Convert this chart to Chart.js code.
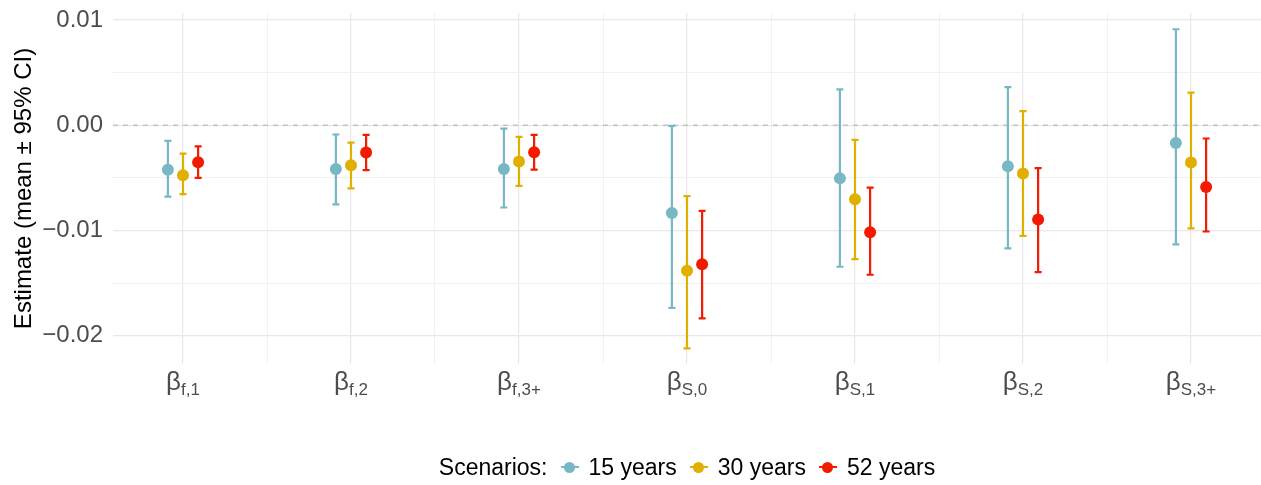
<!DOCTYPE html>
<html>
<head>
<meta charset="utf-8">
<script src="https://cdn.jsdelivr.net/npm/chart.js@4"></script>
<style>
  body { margin: 0; background: #fff; font-family: "Liberation Sans", Arial, sans-serif; }
  #wrap { position: relative; width: 1261px; height: 485px; }
  #legend {
    position: absolute; left: 113px; width: 1148px; top: 452px; height: 30px;
    display: flex; justify-content: center; align-items: center;
    font-size: 23px; color: #000;
  }
  #legend .key { position: relative; width: 18px; height: 12px; margin: 0 10px 0 13px; }
  #legend .key .ln { position: absolute; left: 0; right: 0; top: 5px; height: 2px; }
  #legend .key .dot { position: absolute; left: 3.5px; top: 0.5px; width: 11px; height: 11px; border-radius: 50%; }
</style>
</head>
<body>
<div id="wrap">
  <canvas id="grafik" width="1261" height="485"></canvas>
  <div id="legend"></div>
</div>
<script>
// kategori (label sumbu x: beta + subskrip)
const kategori = ["f,1", "f,2", "f,3+", "S,0", "S,1", "S,2", "S,3+"];

// skenario
const skenario = ["15 years", "30 years", "52 years"];
const warna = ["#78B7C5", "#E1AF00", "#F21A00"];

// nilai estimasi (mean) dan batas 95% CI per skenario
const mean15 = [-0.00424, -0.00415, -0.00415, -0.00833, -0.00505, -0.00389, -0.00168];
const lo15   = [-0.00678, -0.00753, -0.00782, -0.01735, -0.01345, -0.01171, -0.01133];
const hi15   = [-0.00149, -0.00088, -0.00032, -0.00006,  0.00340,  0.00362,  0.00912];

const mean30 = [-0.00475, -0.00380, -0.00345, -0.01383, -0.00703, -0.00459, -0.00354];
const lo30   = [-0.00655, -0.00600, -0.00576, -0.02121, -0.01273, -0.01051, -0.00981];
const hi30   = [-0.00269, -0.00165, -0.00111, -0.00674, -0.00140,  0.00134,  0.00310];

const mean52 = [-0.00351, -0.00260, -0.00256, -0.01320, -0.01016, -0.00896, -0.00586];
const lo52   = [-0.00500, -0.00427, -0.00421, -0.01836, -0.01421, -0.01396, -0.01010];
const hi52   = [-0.00200, -0.00092, -0.00092, -0.00813, -0.00592, -0.00408, -0.00126];

// tick sumbu y
const yTicks = [-0.02, -0.015, -0.01, -0.005, 0, 0.005, 0.01];

const semuaMean = [mean15, mean30, mean52];
const semuaLo = [lo15, lo30, lo52];
const semuaHi = [hi15, hi30, hi52];

const FONT = '"Liberation Sans", Arial, sans-serif';
const geser = [-0.09, 0, 0.09]; // dodge antar skenario

const datasets = skenario.map((nama, s) => ({
  label: nama,
  data: semuaMean[s].map((m, i) => ({ x: i + 1 + geser[s], y: m })),
  lo: semuaLo[s],
  hi: semuaHi[s],
  backgroundColor: warna[s],
  borderColor: warna[s],
  borderWidth: 0,
  pointRadius: 6,
  pointHoverRadius: 6
}));

const isMajor = v => Math.abs(v * 100 - Math.round(v * 100)) < 1e-6;

// plugin: garis nol putus-putus + error bar
const errorBar = {
  id: "errorBar",
  beforeDatasetsDraw(chart) {
    const { ctx, chartArea, scales: { x, y } } = chart;
    ctx.save();
    ctx.strokeStyle = "#bdbdbd";
    ctx.lineWidth = 1.3;
    ctx.setLineDash([5, 5]);
    const y0 = y.getPixelForValue(0);
    ctx.beginPath();
    ctx.moveTo(chartArea.left, y0);
    ctx.lineTo(chartArea.right, y0);
    ctx.stroke();
    ctx.setLineDash([]);

    chart.data.datasets.forEach(ds => {
      ctx.strokeStyle = ds.borderColor;
      ctx.lineWidth = 2.2;
      ds.data.forEach((p, i) => {
        const px = x.getPixelForValue(p.x);
        const top = y.getPixelForValue(ds.hi[i]);
        const bot = y.getPixelForValue(ds.lo[i]);
        ctx.beginPath();
        ctx.moveTo(px, top); ctx.lineTo(px, bot);
        ctx.moveTo(px - 3.5, top); ctx.lineTo(px + 3.5, top);
        ctx.moveTo(px - 3.5, bot); ctx.lineTo(px + 3.5, bot);
        ctx.stroke();
      });
    });
    ctx.restore();
  }
};

// plugin: label beta dengan subskrip
const labelBeta = {
  id: "labelBeta",
  afterDraw(chart) {
    const { ctx, scales: { x } } = chart;
    ctx.save();
    ctx.fillStyle = "#4d4d4d";
    ctx.textBaseline = "alphabetic";
    ctx.textAlign = "left";
    kategori.forEach((sub, i) => {
      const cx = x.getPixelForValue(i + 1);
      ctx.font = "26px " + FONT;
      const wB = ctx.measureText("β").width;
      ctx.font = "17px " + FONT;
      const wS = ctx.measureText(sub).width;
      const x0 = cx - (wB + wS) / 2;
      ctx.font = "26px " + FONT;
      ctx.fillText("β", x0, 390);
      ctx.font = "17px " + FONT;
      ctx.fillText(sub, x0 + wB, 395);
    });
    ctx.restore();
  }
};

const chart = new Chart(document.getElementById("grafik"), {
  type: "scatter",
  data: { datasets },
  options: {
    responsive: false,
    animation: false,
    layout: { autoPadding: false, padding: { top: 13, right: 0, bottom: 0, left: 0 } },
    plugins: { legend: { display: false }, tooltip: { enabled: false } },
    scales: {
      x: {
        type: "linear",
        min: 1 - 70 / 168,
        max: 7 + 70 / 168,
        afterBuildTicks: s => { s.ticks = [1, 1.5, 2, 2.5, 3, 3.5, 4, 4.5, 5, 5.5, 6, 6.5, 7].map(v => ({ value: v })); },
        afterFit: s => { s.height = 121; s.paddingLeft = 0; s.paddingRight = 0; },
        ticks: { display: false },
        border: { display: false },
        grid: {
          drawTicks: false,
          color: c => Number.isInteger(c.tick.value) ? "#e8e8e8" : "#efefef",
          lineWidth: c => Number.isInteger(c.tick.value) ? 1.2 : 0.9
        }
      },
      y: {
        min: -0.02269,
        max: 0.010665,
        afterBuildTicks: s => { s.ticks = yTicks.map(v => ({ value: v })); },
        afterFit: s => { s.width = 113; s.paddingTop = 0; s.paddingBottom = 0; },
        ticks: {
          padding: 10,
          color: "#4d4d4d",
          font: { size: 24, family: FONT },
          callback: v => {
            if (!isMajor(v)) return "";
            const t = Math.abs(v).toFixed(2);
            return v < -1e-9 ? "\u2212" + t : t;
          }
        },
        border: { display: false },
        grid: {
          drawTicks: false,
          color: c => isMajor(c.tick.value) ? "#e8e8e8" : "#efefef",
          lineWidth: c => isMajor(c.tick.value) ? 1.3 : 0.9
        },
        title: {
          display: true,
          text: "Estimate (mean ± 95% CI)",
          color: "#000",
          font: { size: 24, family: FONT },
          padding: { top: 10, bottom: 0 }
        }
      }
    }
  },
  plugins: [errorBar, labelBeta]
});

// legend manual di bawah
const legendEl = document.getElementById("legend");
let html = "<span>Scenarios:</span>";
skenario.forEach((nama, s) => {
  html += `<span class="key"><span class="ln" style="background:${warna[s]}"></span>` +
          `<span class="dot" style="background:${warna[s]}"></span></span><span>${nama}</span>`;
});
legendEl.innerHTML = html;
</script>
</body>
</html>
